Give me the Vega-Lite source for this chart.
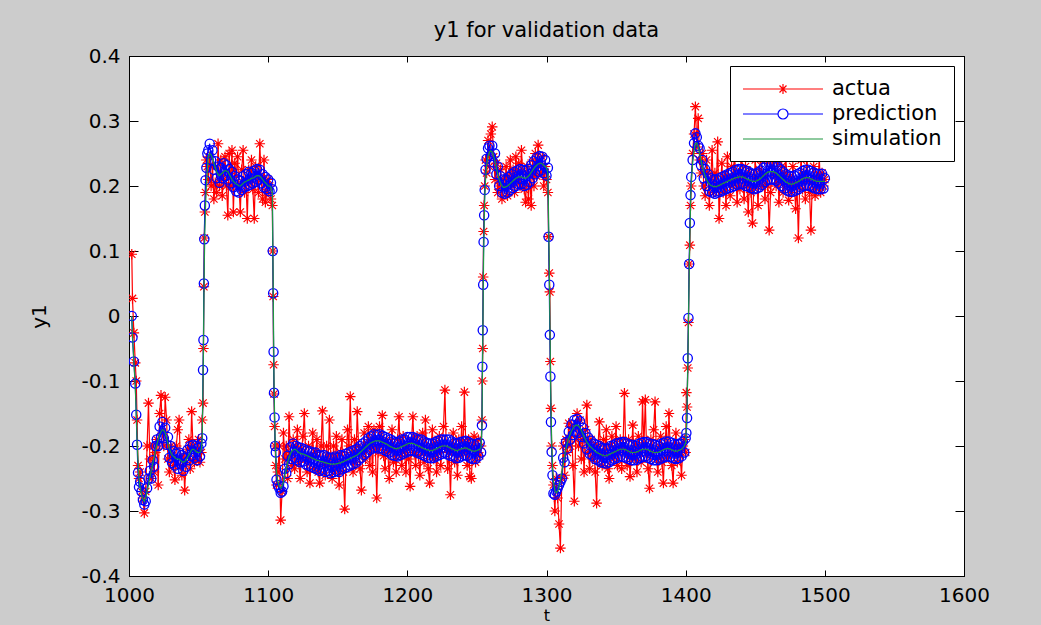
{
"$schema": "https://vega.github.io/schema/vega-lite/v6.json",
"background": "#cccccc",
"autosize": {"type": "none"},
"padding": {"left": 129, "top": 56, "right": 77, "bottom": 49},
"width": 835,
"height": 520,
"title": {"text": "y1 for validation data", "font": "DejaVu Sans", "fontSize": 21, "fontWeight": "normal", "color": "#000", "offset": 5, "anchor": "middle", "frame": "group"},
"config": {
  "view": {"stroke": "#000", "strokeWidth": 1, "fill": "#ffffff"},
  "axis": {"domainColor": "#000", "tickColor": "#000", "labelColor": "#000", "titleColor": "#000", "labelFont": "DejaVu Sans", "labelFontSize": 20, "titleFont": "DejaVu Sans", "titleFontSize": 20, "titleFontWeight": "normal", "grid": false, "domainWidth": 1, "tickWidth": 1, "labelFlush": false, "labelOverlap": false},
  "legend": {"title": null, "orient": "top-right", "offset": 10, "fillColor": "#ffffff", "strokeColor": "#000000", "padding": 12, "labelFont": "DejaVu Sans", "labelFontSize": 21, "labelColor": "#000", "symbolSize": 400, "symbolStrokeWidth": 1.2, "labelOffset": 68, "rowPadding": 4}
},
"data": {"values": [
{"t":1002,"a":0.095,"p":0,"s":0},
{"t":1002.5,"a":0.027,"p":-0.033,"s":-0.03},
{"t":1003.5,"a":-0.026,"p":-0.07,"s":-0.07},
{"t":1004.5,"a":-0.072,"p":-0.104,"s":-0.11},
{"t":1005.2,"a":-0.1,"p":-0.152,"s":-0.15},
{"t":1005.8,"a":-0.16,"p":-0.198,"s":-0.19},
{"t":1006.5,"a":-0.23,"p":-0.241,"s":-0.225},
{"t":1007.2,"a":-0.25,"p":-0.263,"s":-0.25},
{"t":1008,"a":-0.24,"p":-0.255,"s":-0.265},
{"t":1009,"a":-0.27,"p":-0.27,"s":-0.275},
{"t":1010,"a":-0.28,"p":-0.283,"s":-0.282},
{"t":1011,"a":-0.303,"p":-0.29,"s":-0.285},
{"t":1012,"a":-0.27,"p":-0.285,"s":-0.28},
{"t":1013,"a":-0.2,"p":-0.265,"s":-0.27},
{"t":1014,"a":-0.134,"p":-0.25,"s":-0.26},
{"t":1015,"a":-0.22,"p":-0.238,"s":-0.248},
{"t":1016,"a":-0.25,"p":-0.25,"s":-0.238},
{"t":1017,"a":-0.2,"p":-0.222,"s":-0.228},
{"t":1018,"a":-0.24,"p":-0.232,"s":-0.218},
{"t":1019,"a":-0.21,"p":-0.2,"s":-0.208},
{"t":1020,"a":-0.19,"p":-0.19,"s":-0.198},
{"t":1021,"a":-0.26,"p":-0.2,"s":-0.19},
{"t":1022,"a":-0.15,"p":-0.17,"s":-0.183},
{"t":1023,"a":-0.122,"p":-0.186,"s":-0.178},
{"t":1024,"a":-0.18,"p":-0.163,"s":-0.175},
{"t":1025,"a":-0.2,"p":-0.188,"s":-0.176},
{"t":1026,"a":-0.125,"p":-0.172,"s":-0.18},
{"t":1027,"a":-0.16,"p":-0.198,"s":-0.188},
{"t":1028,"a":-0.22,"p":-0.186,"s":-0.196},
{"t":1029,"a":-0.24,"p":-0.218,"s":-0.204},
{"t":1030,"a":-0.2,"p":-0.2,"s":-0.21},
{"t":1031,"a":-0.215,"p":-0.226,"s":-0.214},
{"t":1032,"a":-0.23,"p":-0.208,"s":-0.216},
{"t":1033,"a":-0.252,"p":-0.23,"s":-0.218},
{"t":1034,"a":-0.2,"p":-0.212,"s":-0.22},
{"t":1035,"a":-0.175,"p":-0.235,"s":-0.22},
{"t":1036,"a":-0.16,"p":-0.21,"s":-0.22},
{"t":1037,"a":-0.23,"p":-0.228,"s":-0.222},
{"t":1038,"a":-0.245,"p":-0.214,"s":-0.224},
{"t":1039,"a":-0.215,"p":-0.238,"s":-0.225},
{"t":1040,"a":-0.268,"p":-0.218,"s":-0.224},
{"t":1041,"a":-0.225,"p":-0.232,"s":-0.222},
{"t":1042,"a":-0.205,"p":-0.206,"s":-0.218},
{"t":1043,"a":-0.19,"p":-0.222,"s":-0.214},
{"t":1044,"a":-0.235,"p":-0.2,"s":-0.21},
{"t":1045,"a":-0.147,"p":-0.215,"s":-0.206},
{"t":1046,"a":-0.2,"p":-0.198,"s":-0.205},
{"t":1047,"a":-0.225,"p":-0.218,"s":-0.206},
{"t":1048,"a":-0.22,"p":-0.2,"s":-0.208},
{"t":1049,"a":-0.205,"p":-0.222,"s":-0.21},
{"t":1050,"a":-0.19,"p":-0.203,"s":-0.21},
{"t":1051,"a":-0.225,"p":-0.216,"s":-0.21},
{"t":1052,"a":-0.21,"p":-0.196,"s":-0.205},
{"t":1052.6,"a":-0.16,"p":-0.188,"s":-0.19},
{"t":1053.2,"a":-0.134,"p":-0.083,"s":-0.1},
{"t":1053.5,"a":-0.05,"p":-0.037,"s":-0.05},
{"t":1053.8,"a":0.045,"p":0.05,"s":0.02},
{"t":1054.1,"a":0.12,"p":0.118,"s":0.08},
{"t":1054.5,"a":0.16,"p":0.17,"s":0.13},
{"t":1055,"a":0.19,"p":0.209,"s":0.17},
{"t":1055.6,"a":0.24,"p":0.228,"s":0.2},
{"t":1056.3,"a":0.23,"p":0.25,"s":0.225},
{"t":1057,"a":0.21,"p":0.255,"s":0.245},
{"t":1058,"a":0.245,"p":0.265,"s":0.25},
{"t":1059,"a":0.2,"p":0.24,"s":0.248},
{"t":1060,"a":0.23,"p":0.255,"s":0.242},
{"t":1061,"a":0.18,"p":0.225,"s":0.235},
{"t":1062,"a":0.205,"p":0.238,"s":0.228},
{"t":1063,"a":0.19,"p":0.212,"s":0.222},
{"t":1064,"a":0.265,"p":0.23,"s":0.218},
{"t":1065,"a":0.2,"p":0.205,"s":0.216},
{"t":1066,"a":0.24,"p":0.228,"s":0.218},
{"t":1067,"a":0.185,"p":0.212,"s":0.22},
{"t":1068,"a":0.21,"p":0.235,"s":0.222},
{"t":1069,"a":0.245,"p":0.215,"s":0.224},
{"t":1070,"a":0.2,"p":0.232,"s":0.223},
{"t":1071,"a":0.155,"p":0.21,"s":0.222},
{"t":1072,"a":0.25,"p":0.226,"s":0.218},
{"t":1073,"a":0.2,"p":0.204,"s":0.214},
{"t":1074,"a":0.255,"p":0.222,"s":0.21},
{"t":1075,"a":0.16,"p":0.198,"s":0.207},
{"t":1076,"a":0.235,"p":0.215,"s":0.205},
{"t":1077,"a":0.215,"p":0.192,"s":0.203},
{"t":1078,"a":0.245,"p":0.21,"s":0.202},
{"t":1079,"a":0.2,"p":0.19,"s":0.2},
{"t":1080,"a":0.16,"p":0.208,"s":0.2},
{"t":1081,"a":0.225,"p":0.194,"s":0.202},
{"t":1082,"a":0.255,"p":0.215,"s":0.204},
{"t":1083,"a":0.19,"p":0.198,"s":0.206},
{"t":1084,"a":0.21,"p":0.218,"s":0.207},
{"t":1085,"a":0.15,"p":0.2,"s":0.208},
{"t":1086,"a":0.225,"p":0.222,"s":0.209},
{"t":1087,"a":0.205,"p":0.202,"s":0.21},
{"t":1088,"a":0.24,"p":0.22,"s":0.212},
{"t":1089,"a":0.195,"p":0.204,"s":0.212},
{"t":1090,"a":0.15,"p":0.224,"s":0.213},
{"t":1091,"a":0.23,"p":0.206,"s":0.215},
{"t":1092,"a":0.215,"p":0.226,"s":0.216},
{"t":1093,"a":0.19,"p":0.21,"s":0.216},
{"t":1094,"a":0.265,"p":0.225,"s":0.215},
{"t":1095,"a":0.21,"p":0.204,"s":0.213},
{"t":1096,"a":0.18,"p":0.218,"s":0.21},
{"t":1097,"a":0.24,"p":0.198,"s":0.207},
{"t":1098,"a":0.175,"p":0.214,"s":0.205},
{"t":1099,"a":0.19,"p":0.195,"s":0.203},
{"t":1100,"a":0.21,"p":0.21,"s":0.2},
{"t":1101,"a":0.2,"p":0.192,"s":0.2},
{"t":1102,"a":0.18,"p":0.205,"s":0.198},
{"t":1103,"a":0.17,"p":0.195,"s":0.19},
{"t":1103.3,"a":0.1,"p":0.1,"s":0.12},
{"t":1103.6,"a":0.03,"p":0.035,"s":0.05},
{"t":1103.9,"a":-0.075,"p":-0.055,"s":-0.03},
{"t":1104.2,"a":-0.12,"p":-0.118,"s":-0.1},
{"t":1104.6,"a":-0.17,"p":-0.156,"s":-0.15},
{"t":1105,"a":-0.2,"p":-0.2,"s":-0.19},
{"t":1105.5,"a":-0.23,"p":-0.21,"s":-0.22},
{"t":1106,"a":-0.26,"p":-0.252,"s":-0.24},
{"t":1107,"a":-0.24,"p":-0.26,"s":-0.255},
{"t":1108,"a":-0.2,"p":-0.265,"s":-0.262},
{"t":1109,"a":-0.314,"p":-0.272,"s":-0.265},
{"t":1110,"a":-0.27,"p":-0.27,"s":-0.262},
{"t":1111,"a":-0.18,"p":-0.262,"s":-0.255},
{"t":1112,"a":-0.22,"p":-0.235,"s":-0.245},
{"t":1113,"a":-0.2,"p":-0.242,"s":-0.235},
{"t":1114,"a":-0.25,"p":-0.215,"s":-0.225},
{"t":1115,"a":-0.155,"p":-0.228,"s":-0.218},
{"t":1116,"a":-0.21,"p":-0.202,"s":-0.212},
{"t":1117,"a":-0.23,"p":-0.22,"s":-0.208},
{"t":1118,"a":-0.19,"p":-0.196,"s":-0.206},
{"t":1119,"a":-0.235,"p":-0.218,"s":-0.205},
{"t":1120,"a":-0.2,"p":-0.2,"s":-0.206},
{"t":1121,"a":-0.175,"p":-0.222,"s":-0.208},
{"t":1122,"a":-0.225,"p":-0.202,"s":-0.21},
{"t":1123,"a":-0.25,"p":-0.225,"s":-0.211},
{"t":1124,"a":-0.205,"p":-0.203,"s":-0.212},
{"t":1125,"a":-0.185,"p":-0.224,"s":-0.212},
{"t":1126,"a":-0.15,"p":-0.205,"s":-0.213},
{"t":1127,"a":-0.22,"p":-0.228,"s":-0.214},
{"t":1128,"a":-0.24,"p":-0.207,"s":-0.215},
{"t":1129,"a":-0.2,"p":-0.23,"s":-0.216},
{"t":1130,"a":-0.257,"p":-0.208,"s":-0.217},
{"t":1131,"a":-0.215,"p":-0.232,"s":-0.218},
{"t":1132,"a":-0.18,"p":-0.21,"s":-0.219},
{"t":1133,"a":-0.235,"p":-0.234,"s":-0.22},
{"t":1134,"a":-0.21,"p":-0.21,"s":-0.221},
{"t":1135,"a":-0.19,"p":-0.236,"s":-0.222},
{"t":1136,"a":-0.24,"p":-0.214,"s":-0.222},
{"t":1137,"a":-0.257,"p":-0.238,"s":-0.223},
{"t":1138,"a":-0.2,"p":-0.215,"s":-0.224},
{"t":1139,"a":-0.146,"p":-0.236,"s":-0.224},
{"t":1140,"a":-0.225,"p":-0.214,"s":-0.225},
{"t":1141,"a":-0.245,"p":-0.24,"s":-0.226},
{"t":1142,"a":-0.2,"p":-0.216,"s":-0.226},
{"t":1143,"a":-0.23,"p":-0.238,"s":-0.227},
{"t":1144,"a":-0.16,"p":-0.218,"s":-0.227},
{"t":1145,"a":-0.215,"p":-0.242,"s":-0.228},
{"t":1146,"a":-0.25,"p":-0.218,"s":-0.228},
{"t":1147,"a":-0.2,"p":-0.24,"s":-0.228},
{"t":1148,"a":-0.24,"p":-0.216,"s":-0.228},
{"t":1149,"a":-0.185,"p":-0.238,"s":-0.227},
{"t":1150,"a":-0.225,"p":-0.218,"s":-0.227},
{"t":1151,"a":-0.26,"p":-0.24,"s":-0.226},
{"t":1152,"a":-0.21,"p":-0.214,"s":-0.226},
{"t":1153,"a":-0.19,"p":-0.236,"s":-0.225},
{"t":1154,"a":-0.24,"p":-0.215,"s":-0.224},
{"t":1155,"a":-0.297,"p":-0.234,"s":-0.223},
{"t":1156,"a":-0.22,"p":-0.212,"s":-0.222},
{"t":1157,"a":-0.175,"p":-0.232,"s":-0.221},
{"t":1158,"a":-0.2,"p":-0.21,"s":-0.22},
{"t":1159,"a":-0.124,"p":-0.23,"s":-0.219},
{"t":1160,"a":-0.21,"p":-0.208,"s":-0.218},
{"t":1161,"a":-0.24,"p":-0.228,"s":-0.217},
{"t":1162,"a":-0.19,"p":-0.206,"s":-0.216},
{"t":1163,"a":-0.225,"p":-0.226,"s":-0.215},
{"t":1164,"a":-0.147,"p":-0.204,"s":-0.214},
{"t":1165,"a":-0.2,"p":-0.222,"s":-0.212},
{"t":1166,"a":-0.235,"p":-0.2,"s":-0.21},
{"t":1167,"a":-0.268,"p":-0.218,"s":-0.208},
{"t":1168,"a":-0.21,"p":-0.196,"s":-0.206},
{"t":1169,"a":-0.18,"p":-0.214,"s":-0.204},
{"t":1170,"a":-0.22,"p":-0.193,"s":-0.202},
{"t":1171,"a":-0.2,"p":-0.21,"s":-0.2},
{"t":1172,"a":-0.17,"p":-0.188,"s":-0.198},
{"t":1173,"a":-0.23,"p":-0.206,"s":-0.196},
{"t":1174,"a":-0.19,"p":-0.185,"s":-0.195},
{"t":1175,"a":-0.24,"p":-0.204,"s":-0.194},
{"t":1176,"a":-0.175,"p":-0.182,"s":-0.193},
{"t":1177,"a":-0.2,"p":-0.202,"s":-0.192},
{"t":1178,"a":-0.28,"p":-0.183,"s":-0.192},
{"t":1179,"a":-0.21,"p":-0.204,"s":-0.192},
{"t":1180,"a":-0.17,"p":-0.182,"s":-0.192},
{"t":1181,"a":-0.2,"p":-0.203,"s":-0.193},
{"t":1182,"a":-0.153,"p":-0.184,"s":-0.194},
{"t":1183,"a":-0.215,"p":-0.206,"s":-0.195},
{"t":1184,"a":-0.235,"p":-0.186,"s":-0.196},
{"t":1185,"a":-0.19,"p":-0.208,"s":-0.197},
{"t":1186,"a":-0.21,"p":-0.188,"s":-0.198},
{"t":1187,"a":-0.25,"p":-0.21,"s":-0.2},
{"t":1188,"a":-0.2,"p":-0.19,"s":-0.201},
{"t":1189,"a":-0.175,"p":-0.214,"s":-0.202},
{"t":1190,"a":-0.225,"p":-0.193,"s":-0.203},
{"t":1191,"a":-0.205,"p":-0.215,"s":-0.204},
{"t":1192,"a":-0.24,"p":-0.194,"s":-0.204},
{"t":1193,"a":-0.19,"p":-0.216,"s":-0.204},
{"t":1194,"a":-0.155,"p":-0.193,"s":-0.203},
{"t":1195,"a":-0.215,"p":-0.214,"s":-0.202},
{"t":1196,"a":-0.23,"p":-0.19,"s":-0.201},
{"t":1197,"a":-0.185,"p":-0.212,"s":-0.2},
{"t":1198,"a":-0.21,"p":-0.19,"s":-0.199},
{"t":1199,"a":-0.24,"p":-0.21,"s":-0.198},
{"t":1200,"a":-0.2,"p":-0.186,"s":-0.197},
{"t":1201,"a":-0.22,"p":-0.208,"s":-0.196},
{"t":1202,"a":-0.262,"p":-0.186,"s":-0.196},
{"t":1203,"a":-0.19,"p":-0.207,"s":-0.196},
{"t":1204,"a":-0.155,"p":-0.186,"s":-0.196},
{"t":1205,"a":-0.21,"p":-0.208,"s":-0.197},
{"t":1206,"a":-0.23,"p":-0.188,"s":-0.198},
{"t":1207,"a":-0.185,"p":-0.21,"s":-0.199},
{"t":1208,"a":-0.215,"p":-0.19,"s":-0.2},
{"t":1209,"a":-0.245,"p":-0.212,"s":-0.201},
{"t":1210,"a":-0.2,"p":-0.19,"s":-0.202},
{"t":1211,"a":-0.18,"p":-0.214,"s":-0.203},
{"t":1212,"a":-0.225,"p":-0.193,"s":-0.204},
{"t":1213,"a":-0.16,"p":-0.216,"s":-0.205},
{"t":1214,"a":-0.21,"p":-0.195,"s":-0.206},
{"t":1215,"a":-0.235,"p":-0.218,"s":-0.206},
{"t":1216,"a":-0.257,"p":-0.196,"s":-0.207},
{"t":1217,"a":-0.2,"p":-0.219,"s":-0.207},
{"t":1218,"a":-0.175,"p":-0.196,"s":-0.207},
{"t":1219,"a":-0.22,"p":-0.218,"s":-0.206},
{"t":1220,"a":-0.195,"p":-0.194,"s":-0.205},
{"t":1221,"a":-0.24,"p":-0.216,"s":-0.204},
{"t":1222,"a":-0.21,"p":-0.192,"s":-0.203},
{"t":1223,"a":-0.185,"p":-0.214,"s":-0.202},
{"t":1224,"a":-0.23,"p":-0.19,"s":-0.201},
{"t":1225,"a":-0.2,"p":-0.212,"s":-0.2},
{"t":1226,"a":-0.17,"p":-0.19,"s":-0.2},
{"t":1227,"a":-0.114,"p":-0.21,"s":-0.2},
{"t":1228,"a":-0.205,"p":-0.19,"s":-0.2},
{"t":1229,"a":-0.235,"p":-0.213,"s":-0.201},
{"t":1230,"a":-0.21,"p":-0.19,"s":-0.202},
{"t":1231,"a":-0.275,"p":-0.215,"s":-0.203},
{"t":1232,"a":-0.2,"p":-0.193,"s":-0.204},
{"t":1233,"a":-0.18,"p":-0.216,"s":-0.205},
{"t":1234,"a":-0.225,"p":-0.195,"s":-0.206},
{"t":1235,"a":-0.2,"p":-0.219,"s":-0.207},
{"t":1236,"a":-0.245,"p":-0.196,"s":-0.207},
{"t":1237,"a":-0.19,"p":-0.218,"s":-0.206},
{"t":1238,"a":-0.215,"p":-0.194,"s":-0.205},
{"t":1239,"a":-0.17,"p":-0.216,"s":-0.204},
{"t":1240,"a":-0.21,"p":-0.193,"s":-0.204},
{"t":1241,"a":-0.117,"p":-0.214,"s":-0.203},
{"t":1242,"a":-0.2,"p":-0.192,"s":-0.203},
{"t":1243,"a":-0.23,"p":-0.215,"s":-0.204},
{"t":1244,"a":-0.19,"p":-0.194,"s":-0.205},
{"t":1245,"a":-0.247,"p":-0.218,"s":-0.206},
{"t":1246,"a":-0.25,"p":-0.196,"s":-0.207},
{"t":1247,"a":-0.2,"p":-0.22,"s":-0.208},
{"t":1248,"a":-0.185,"p":-0.198,"s":-0.208},
{"t":1249,"a":-0.225,"p":-0.22,"s":-0.208},
{"t":1250,"a":-0.21,"p":-0.196,"s":-0.207},
{"t":1251,"a":-0.19,"p":-0.216,"s":-0.206},
{"t":1252,"a":-0.215,"p":-0.195,"s":-0.205},
{"t":1253,"a":-0.2,"p":-0.21,"s":-0.202},
{"t":1253.6,"a":-0.16,"p":-0.168,"s":-0.17},
{"t":1253.9,"a":-0.1,"p":-0.078,"s":-0.1},
{"t":1254.2,"a":-0.05,"p":-0.022,"s":-0.04},
{"t":1254.5,"a":0.06,"p":0.048,"s":0.03},
{"t":1254.8,"a":0.13,"p":0.114,"s":0.09},
{"t":1255.2,"a":0.17,"p":0.155,"s":0.14},
{"t":1255.6,"a":0.2,"p":0.194,"s":0.18},
{"t":1256.2,"a":0.24,"p":0.225,"s":0.21},
{"t":1257,"a":0.22,"p":0.242,"s":0.232},
{"t":1258,"a":0.27,"p":0.258,"s":0.245},
{"t":1259,"a":0.23,"p":0.262,"s":0.252},
{"t":1260,"a":0.28,"p":0.246,"s":0.254},
{"t":1261,"a":0.291,"p":0.262,"s":0.252},
{"t":1262,"a":0.245,"p":0.236,"s":0.246},
{"t":1263,"a":0.21,"p":0.25,"s":0.238},
{"t":1264,"a":0.235,"p":0.218,"s":0.228},
{"t":1265,"a":0.19,"p":0.23,"s":0.218},
{"t":1266,"a":0.2,"p":0.2,"s":0.21},
{"t":1267,"a":0.225,"p":0.215,"s":0.204},
{"t":1268,"a":0.18,"p":0.19,"s":0.2},
{"t":1269,"a":0.21,"p":0.21,"s":0.198},
{"t":1270,"a":0.195,"p":0.188,"s":0.198},
{"t":1271,"a":0.23,"p":0.21,"s":0.199},
{"t":1272,"a":0.185,"p":0.19,"s":0.2},
{"t":1273,"a":0.215,"p":0.214,"s":0.202},
{"t":1274,"a":0.24,"p":0.194,"s":0.204},
{"t":1275,"a":0.2,"p":0.218,"s":0.206},
{"t":1276,"a":0.225,"p":0.197,"s":0.208},
{"t":1277,"a":0.19,"p":0.222,"s":0.21},
{"t":1278,"a":0.245,"p":0.2,"s":0.212},
{"t":1279,"a":0.21,"p":0.224,"s":0.213},
{"t":1280,"a":0.235,"p":0.203,"s":0.214},
{"t":1281,"a":0.2,"p":0.226,"s":0.214},
{"t":1282,"a":0.255,"p":0.203,"s":0.214},
{"t":1283,"a":0.22,"p":0.225,"s":0.213},
{"t":1284,"a":0.195,"p":0.2,"s":0.212},
{"t":1285,"a":0.175,"p":0.224,"s":0.212},
{"t":1286,"a":0.23,"p":0.202,"s":0.213},
{"t":1287,"a":0.18,"p":0.226,"s":0.215},
{"t":1288,"a":0.215,"p":0.206,"s":0.218},
{"t":1289,"a":0.17,"p":0.232,"s":0.221},
{"t":1290,"a":0.24,"p":0.212,"s":0.224},
{"t":1291,"a":0.2,"p":0.238,"s":0.227},
{"t":1292,"a":0.25,"p":0.218,"s":0.23},
{"t":1293,"a":0.215,"p":0.244,"s":0.232},
{"t":1294,"a":0.263,"p":0.222,"s":0.234},
{"t":1295,"a":0.235,"p":0.246,"s":0.235},
{"t":1296,"a":0.22,"p":0.224,"s":0.235},
{"t":1297,"a":0.245,"p":0.245,"s":0.234},
{"t":1298,"a":0.2,"p":0.22,"s":0.232},
{"t":1299,"a":0.23,"p":0.24,"s":0.23},
{"t":1300,"a":0.21,"p":0.216,"s":0.228},
{"t":1301,"a":0.19,"p":0.228,"s":0.22},
{"t":1301.5,"a":0.122,"p":0.122,"s":0.15},
{"t":1302,"a":0.066,"p":0.048,"s":0.08},
{"t":1302.4,"a":0.037,"p":-0.029,"s":0},
{"t":1302.8,"a":-0.07,"p":-0.093,"s":-0.07},
{"t":1303.2,"a":-0.142,"p":-0.163,"s":-0.14},
{"t":1303.7,"a":-0.2,"p":-0.209,"s":-0.19},
{"t":1304.3,"a":-0.23,"p":-0.245,"s":-0.23},
{"t":1305,"a":-0.26,"p":-0.273,"s":-0.255},
{"t":1306,"a":-0.3,"p":-0.275,"s":-0.268},
{"t":1307,"a":-0.25,"p":-0.27,"s":-0.272},
{"t":1308,"a":-0.28,"p":-0.265,"s":-0.27},
{"t":1309,"a":-0.32,"p":-0.26,"s":-0.262},
{"t":1310,"a":-0.357,"p":-0.255,"s":-0.252},
{"t":1311,"a":-0.25,"p":-0.25,"s":-0.24},
{"t":1312,"a":-0.2,"p":-0.218,"s":-0.228},
{"t":1313,"a":-0.245,"p":-0.225,"s":-0.215},
{"t":1314,"a":-0.19,"p":-0.194,"s":-0.204},
{"t":1315,"a":-0.21,"p":-0.204,"s":-0.195},
{"t":1316,"a":-0.165,"p":-0.178,"s":-0.188},
{"t":1317,"a":-0.2,"p":-0.19,"s":-0.182},
{"t":1318,"a":-0.17,"p":-0.167,"s":-0.177},
{"t":1319,"a":-0.23,"p":-0.183,"s":-0.173},
{"t":1320,"a":-0.285,"p":-0.16,"s":-0.17},
{"t":1321,"a":-0.19,"p":-0.178,"s":-0.168},
{"t":1322,"a":-0.15,"p":-0.158,"s":-0.168},
{"t":1323,"a":-0.2,"p":-0.18,"s":-0.169},
{"t":1324,"a":-0.16,"p":-0.162,"s":-0.172},
{"t":1325,"a":-0.22,"p":-0.186,"s":-0.176},
{"t":1326,"a":-0.19,"p":-0.172,"s":-0.181},
{"t":1327,"a":-0.24,"p":-0.196,"s":-0.186},
{"t":1328,"a":-0.175,"p":-0.18,"s":-0.19},
{"t":1329,"a":-0.137,"p":-0.205,"s":-0.194},
{"t":1330,"a":-0.21,"p":-0.187,"s":-0.197},
{"t":1331,"a":-0.235,"p":-0.212,"s":-0.2},
{"t":1332,"a":-0.19,"p":-0.192,"s":-0.202},
{"t":1333,"a":-0.22,"p":-0.215,"s":-0.204},
{"t":1334,"a":-0.2,"p":-0.196,"s":-0.206},
{"t":1335,"a":-0.24,"p":-0.22,"s":-0.208},
{"t":1336,"a":-0.288,"p":-0.198,"s":-0.21},
{"t":1337,"a":-0.2,"p":-0.222,"s":-0.211},
{"t":1338,"a":-0.163,"p":-0.2,"s":-0.212},
{"t":1339,"a":-0.215,"p":-0.225,"s":-0.213},
{"t":1340,"a":-0.23,"p":-0.203,"s":-0.214},
{"t":1341,"a":-0.19,"p":-0.226,"s":-0.215},
{"t":1342,"a":-0.21,"p":-0.204,"s":-0.215},
{"t":1343,"a":-0.175,"p":-0.227,"s":-0.215},
{"t":1344,"a":-0.235,"p":-0.204,"s":-0.214},
{"t":1345,"a":-0.25,"p":-0.225,"s":-0.213},
{"t":1346,"a":-0.2,"p":-0.2,"s":-0.212},
{"t":1347,"a":-0.185,"p":-0.222,"s":-0.211},
{"t":1348,"a":-0.22,"p":-0.199,"s":-0.21},
{"t":1349,"a":-0.205,"p":-0.22,"s":-0.209},
{"t":1350,"a":-0.17,"p":-0.196,"s":-0.208},
{"t":1351,"a":-0.23,"p":-0.218,"s":-0.207},
{"t":1352,"a":-0.21,"p":-0.195,"s":-0.206},
{"t":1353,"a":-0.19,"p":-0.216,"s":-0.205},
{"t":1354,"a":-0.235,"p":-0.194,"s":-0.205},
{"t":1355,"a":-0.2,"p":-0.217,"s":-0.205},
{"t":1356,"a":-0.119,"p":-0.194,"s":-0.205},
{"t":1357,"a":-0.21,"p":-0.218,"s":-0.206},
{"t":1358,"a":-0.23,"p":-0.196,"s":-0.207},
{"t":1359,"a":-0.19,"p":-0.22,"s":-0.208},
{"t":1360,"a":-0.247,"p":-0.198,"s":-0.209},
{"t":1361,"a":-0.215,"p":-0.222,"s":-0.21},
{"t":1362,"a":-0.168,"p":-0.198,"s":-0.21},
{"t":1363,"a":-0.22,"p":-0.222,"s":-0.21},
{"t":1364,"a":-0.2,"p":-0.2,"s":-0.21},
{"t":1365,"a":-0.24,"p":-0.221,"s":-0.209},
{"t":1366,"a":-0.185,"p":-0.197,"s":-0.208},
{"t":1367,"a":-0.21,"p":-0.219,"s":-0.207},
{"t":1368,"a":-0.225,"p":-0.195,"s":-0.206},
{"t":1369,"a":-0.132,"p":-0.217,"s":-0.205},
{"t":1370,"a":-0.2,"p":-0.194,"s":-0.205},
{"t":1371,"a":-0.129,"p":-0.216,"s":-0.205},
{"t":1372,"a":-0.215,"p":-0.194,"s":-0.205},
{"t":1373,"a":-0.235,"p":-0.218,"s":-0.206},
{"t":1374,"a":-0.265,"p":-0.196,"s":-0.207},
{"t":1375,"a":-0.19,"p":-0.22,"s":-0.208},
{"t":1376,"a":-0.21,"p":-0.197,"s":-0.209},
{"t":1377,"a":-0.175,"p":-0.222,"s":-0.21},
{"t":1378,"a":-0.132,"p":-0.198,"s":-0.21},
{"t":1379,"a":-0.22,"p":-0.222,"s":-0.21},
{"t":1380,"a":-0.24,"p":-0.2,"s":-0.21},
{"t":1381,"a":-0.2,"p":-0.221,"s":-0.209},
{"t":1382,"a":-0.185,"p":-0.197,"s":-0.208},
{"t":1383,"a":-0.225,"p":-0.219,"s":-0.207},
{"t":1384,"a":-0.257,"p":-0.195,"s":-0.206},
{"t":1385,"a":-0.2,"p":-0.217,"s":-0.205},
{"t":1386,"a":-0.17,"p":-0.193,"s":-0.204},
{"t":1387,"a":-0.215,"p":-0.216,"s":-0.204},
{"t":1388,"a":-0.15,"p":-0.193,"s":-0.204},
{"t":1389,"a":-0.21,"p":-0.217,"s":-0.205},
{"t":1390,"a":-0.23,"p":-0.195,"s":-0.206},
{"t":1391,"a":-0.257,"p":-0.219,"s":-0.207},
{"t":1392,"a":-0.2,"p":-0.197,"s":-0.208},
{"t":1393,"a":-0.18,"p":-0.22,"s":-0.208},
{"t":1394,"a":-0.225,"p":-0.197,"s":-0.208},
{"t":1395,"a":-0.2,"p":-0.219,"s":-0.207},
{"t":1396,"a":-0.215,"p":-0.196,"s":-0.206},
{"t":1397,"a":-0.245,"p":-0.216,"s":-0.205},
{"t":1398,"a":-0.2,"p":-0.193,"s":-0.203},
{"t":1399,"a":-0.19,"p":-0.21,"s":-0.2},
{"t":1400,"a":-0.21,"p":-0.188,"s":-0.195},
{"t":1400.5,"a":-0.118,"p":-0.18,"s":-0.17},
{"t":1401,"a":-0.14,"p":-0.157,"s":-0.14},
{"t":1401.5,"a":-0.08,"p":-0.065,"s":-0.08},
{"t":1402,"a":-0.01,"p":-0.003,"s":-0.01},
{"t":1402.5,"a":0.08,"p":0.08,"s":0.06},
{"t":1403,"a":0.109,"p":0.143,"s":0.12},
{"t":1403.5,"a":0.17,"p":0.186,"s":0.17},
{"t":1404,"a":0.2,"p":0.214,"s":0.205},
{"t":1405,"a":0.25,"p":0.24,"s":0.235},
{"t":1406,"a":0.28,"p":0.266,"s":0.255},
{"t":1407,"a":0.322,"p":0.281,"s":0.265},
{"t":1408,"a":0.26,"p":0.275,"s":0.266},
{"t":1409,"a":0.304,"p":0.262,"s":0.26},
{"t":1410,"a":0.24,"p":0.258,"s":0.25},
{"t":1411,"a":0.22,"p":0.232,"s":0.24},
{"t":1412,"a":0.25,"p":0.24,"s":0.23},
{"t":1413,"a":0.2,"p":0.212,"s":0.222},
{"t":1414,"a":0.185,"p":0.226,"s":0.215},
{"t":1415,"a":0.24,"p":0.2,"s":0.21},
{"t":1416,"a":0.22,"p":0.218,"s":0.206},
{"t":1417,"a":0.17,"p":0.192,"s":0.203},
{"t":1418,"a":0.21,"p":0.212,"s":0.201},
{"t":1419,"a":0.255,"p":0.19,"s":0.2},
{"t":1420,"a":0.19,"p":0.21,"s":0.199},
{"t":1421,"a":0.22,"p":0.188,"s":0.199},
{"t":1422,"a":0.2,"p":0.21,"s":0.199},
{"t":1423,"a":0.268,"p":0.19,"s":0.2},
{"t":1424,"a":0.15,"p":0.212,"s":0.201},
{"t":1425,"a":0.2,"p":0.191,"s":0.202},
{"t":1426,"a":0.235,"p":0.214,"s":0.203},
{"t":1427,"a":0.19,"p":0.193,"s":0.204},
{"t":1428,"a":0.215,"p":0.216,"s":0.205},
{"t":1429,"a":0.17,"p":0.195,"s":0.206},
{"t":1430,"a":0.245,"p":0.218,"s":0.207},
{"t":1431,"a":0.21,"p":0.197,"s":0.208},
{"t":1432,"a":0.185,"p":0.22,"s":0.209},
{"t":1433,"a":0.23,"p":0.198,"s":0.21},
{"t":1434,"a":0.2,"p":0.222,"s":0.211},
{"t":1435,"a":0.25,"p":0.2,"s":0.212},
{"t":1436,"a":0.215,"p":0.225,"s":0.213},
{"t":1437,"a":0.175,"p":0.202,"s":0.213},
{"t":1438,"a":0.22,"p":0.226,"s":0.214},
{"t":1439,"a":0.195,"p":0.203,"s":0.214},
{"t":1440,"a":0.26,"p":0.226,"s":0.214},
{"t":1441,"a":0.21,"p":0.203,"s":0.214},
{"t":1442,"a":0.18,"p":0.225,"s":0.213},
{"t":1443,"a":0.23,"p":0.2,"s":0.212},
{"t":1444,"a":0.2,"p":0.223,"s":0.211},
{"t":1445,"a":0.16,"p":0.199,"s":0.21},
{"t":1446,"a":0.22,"p":0.221,"s":0.209},
{"t":1447,"a":0.19,"p":0.197,"s":0.208},
{"t":1448,"a":0.143,"p":0.219,"s":0.207},
{"t":1449,"a":0.2,"p":0.195,"s":0.207},
{"t":1450,"a":0.24,"p":0.219,"s":0.207},
{"t":1451,"a":0.21,"p":0.196,"s":0.208},
{"t":1452,"a":0.17,"p":0.221,"s":0.209},
{"t":1453,"a":0.225,"p":0.198,"s":0.21},
{"t":1454,"a":0.25,"p":0.224,"s":0.212},
{"t":1455,"a":0.2,"p":0.202,"s":0.214},
{"t":1456,"a":0.215,"p":0.228,"s":0.216},
{"t":1457,"a":0.18,"p":0.206,"s":0.218},
{"t":1458,"a":0.24,"p":0.232,"s":0.22},
{"t":1459,"a":0.2,"p":0.209,"s":0.221},
{"t":1460,"a":0.132,"p":0.234,"s":0.222},
{"t":1461,"a":0.19,"p":0.21,"s":0.222},
{"t":1462,"a":0.23,"p":0.234,"s":0.222},
{"t":1463,"a":0.25,"p":0.21,"s":0.222},
{"t":1464,"a":0.215,"p":0.233,"s":0.221},
{"t":1465,"a":0.2,"p":0.208,"s":0.22},
{"t":1466,"a":0.24,"p":0.23,"s":0.218},
{"t":1467,"a":0.175,"p":0.204,"s":0.216},
{"t":1468,"a":0.21,"p":0.226,"s":0.214},
{"t":1469,"a":0.23,"p":0.2,"s":0.212},
{"t":1470,"a":0.19,"p":0.222,"s":0.21},
{"t":1471,"a":0.22,"p":0.196,"s":0.208},
{"t":1472,"a":0.245,"p":0.218,"s":0.206},
{"t":1473,"a":0.2,"p":0.193,"s":0.205},
{"t":1474,"a":0.178,"p":0.216,"s":0.204},
{"t":1475,"a":0.215,"p":0.191,"s":0.203},
{"t":1476,"a":0.19,"p":0.215,"s":0.203},
{"t":1477,"a":0.23,"p":0.191,"s":0.203},
{"t":1478,"a":0.205,"p":0.216,"s":0.204},
{"t":1479,"a":0.165,"p":0.193,"s":0.205},
{"t":1480,"a":0.2,"p":0.218,"s":0.206},
{"t":1481,"a":0.12,"p":0.195,"s":0.207},
{"t":1482,"a":0.21,"p":0.22,"s":0.208},
{"t":1483,"a":0.24,"p":0.198,"s":0.21},
{"t":1484,"a":0.195,"p":0.223,"s":0.211},
{"t":1485,"a":0.22,"p":0.2,"s":0.212},
{"t":1486,"a":0.18,"p":0.225,"s":0.213},
{"t":1487,"a":0.25,"p":0.201,"s":0.213},
{"t":1488,"a":0.21,"p":0.225,"s":0.213},
{"t":1489,"a":0.19,"p":0.2,"s":0.212},
{"t":1490,"a":0.132,"p":0.223,"s":0.211},
{"t":1491,"a":0.205,"p":0.198,"s":0.21},
{"t":1492,"a":0.23,"p":0.221,"s":0.209},
{"t":1493,"a":0.185,"p":0.196,"s":0.208},
{"t":1494,"a":0.215,"p":0.219,"s":0.207},
{"t":1495,"a":0.2,"p":0.195,"s":0.207},
{"t":1496,"a":0.245,"p":0.219,"s":0.207},
{"t":1497,"a":0.19,"p":0.195,"s":0.207},
{"t":1498,"a":0.22,"p":0.219,"s":0.207},
{"t":1499,"a":0.2,"p":0.196,"s":0.207},
{"t":1500,"a":0.21,"p":0.212,"s":0.207}
]},
"resolve": {"axis": {"x": "independent", "y": "independent"}},
"layer": [
  {
    "mark": {"type": "line", "color": "#ff0000", "strokeWidth": 1.2, "clip": true},
    "encoding": {
      "x": {"field": "t", "type": "quantitative", "scale": {"domain": [1000, 1600], "nice": false, "zero": false},
            "axis": {"orient": "bottom", "values": [1000, 1100, 1200, 1300, 1400, 1500, 1600], "format": "d", "title": "t", "tickSize": -6, "labelPadding": 15, "titlePadding": 2, "titleFontSize": 16}},
      "y": {"field": "a", "type": "quantitative", "scale": {"domain": [-0.4, 0.4], "nice": false, "zero": false},
            "axis": {"orient": "left", "values": [-0.4, -0.3, -0.2, -0.1, 0, 0.1, 0.2, 0.3, 0.4], "labelExpr": "'' + datum.value", "title": "y1", "tickSize": -9, "labelPadding": 18, "titlePadding": 31}}
    }
  },
  {
    "mark": {"type": "point", "shape": "M-1,0L1,0M0,-1L0,1M-0.7,-0.7L0.7,0.7M-0.7,0.7L0.7,-0.7", "filled": false, "color": "#ff0000", "size": 110, "strokeWidth": 1.2, "opacity": 1, "clip": true},
    "encoding": {
      "x": {"field": "t", "type": "quantitative", "scale": {"domain": [1000, 1600], "nice": false, "zero": false}, "axis": null},
      "y": {"field": "a", "type": "quantitative", "scale": {"domain": [-0.4, 0.4], "nice": false, "zero": false}, "axis": null}
    }
  },
  {
    "mark": {"type": "line", "color": "#0000ff", "strokeWidth": 1.2, "clip": true},
    "encoding": {
      "x": {"field": "t", "type": "quantitative", "scale": {"domain": [1000, 1600], "nice": false, "zero": false}, "axis": null},
      "y": {"field": "p", "type": "quantitative", "scale": {"domain": [-0.4, 0.4], "nice": false, "zero": false}, "axis": null}
    }
  },
  {
    "mark": {"type": "point", "shape": "circle", "filled": false, "color": "#0000ff", "size": 85, "strokeWidth": 1.3, "opacity": 1, "clip": true},
    "encoding": {
      "x": {"field": "t", "type": "quantitative", "scale": {"domain": [1000, 1600], "nice": false, "zero": false}, "axis": null},
      "y": {"field": "p", "type": "quantitative", "scale": {"domain": [-0.4, 0.4], "nice": false, "zero": false}, "axis": null}
    }
  },
  {
    "mark": {"type": "line", "color": "#1e9641", "strokeWidth": 1.2, "clip": true},
    "encoding": {
      "x": {"field": "t", "type": "quantitative", "scale": {"domain": [1000, 1600], "nice": false, "zero": false},
            "axis": {"orient": "top", "values": [1000, 1100, 1200, 1300, 1400, 1500, 1600], "labels": false, "title": null, "tickSize": -6}},
      "y": {"field": "s", "type": "quantitative", "scale": {"domain": [-0.4, 0.4], "nice": false, "zero": false},
            "axis": {"orient": "right", "values": [-0.4, -0.3, -0.2, -0.1, 0, 0.1, 0.2, 0.3, 0.4], "labels": false, "title": null, "tickSize": -9}}
    }
  },
  {
    "transform": [{"filter": "datum.t > 9999"}],
    "mark": {"type": "point", "filled": false, "size": 400, "strokeWidth": 1.2, "opacity": 1},
    "encoding": {
      "x": {"field": "t", "type": "quantitative", "scale": {"domain": [1000, 1600], "nice": false, "zero": false}, "axis": null},
      "y": {"field": "a", "type": "quantitative", "scale": {"domain": [-0.4, 0.4], "nice": false, "zero": false}, "axis": null},
      "color": {"datum": "actua", "type": "nominal", "scale": {"domain": ["actua", "prediction", "simulation"], "range": ["#ff0000", "#0000ff", "#1e9641"]}},
      "shape": {"datum": "actua", "type": "nominal", "scale": {"domain": ["actua", "prediction", "simulation"], "range": ["M-1,0H7M3,-0.5V0.5M2.65,-0.35L3.35,0.35M2.65,0.35L3.35,-0.35", "M-1,0H2.5M3.5,0H7M3.5,0A0.5,0.5,0,1,1,2.5,0A0.5,0.5,0,1,1,3.5,0", "M-1,0H7"]}}
    }
  },
  {
    "transform": [{"filter": "datum.t > 9999"}],
    "mark": {"type": "point", "filled": false, "size": 400, "strokeWidth": 1.2, "opacity": 1},
    "encoding": {
      "x": {"field": "t", "type": "quantitative", "scale": {"domain": [1000, 1600], "nice": false, "zero": false}, "axis": null},
      "y": {"field": "p", "type": "quantitative", "scale": {"domain": [-0.4, 0.4], "nice": false, "zero": false}, "axis": null},
      "color": {"datum": "prediction", "type": "nominal", "scale": {"domain": ["actua", "prediction", "simulation"], "range": ["#ff0000", "#0000ff", "#1e9641"]}},
      "shape": {"datum": "prediction", "type": "nominal", "scale": {"domain": ["actua", "prediction", "simulation"], "range": ["M-1,0H7M3,-0.5V0.5M2.65,-0.35L3.35,0.35M2.65,0.35L3.35,-0.35", "M-1,0H2.5M3.5,0H7M3.5,0A0.5,0.5,0,1,1,2.5,0A0.5,0.5,0,1,1,3.5,0", "M-1,0H7"]}}
    }
  },
  {
    "transform": [{"filter": "datum.t > 9999"}],
    "mark": {"type": "point", "filled": false, "size": 400, "strokeWidth": 1.2, "opacity": 1},
    "encoding": {
      "x": {"field": "t", "type": "quantitative", "scale": {"domain": [1000, 1600], "nice": false, "zero": false}, "axis": null},
      "y": {"field": "s", "type": "quantitative", "scale": {"domain": [-0.4, 0.4], "nice": false, "zero": false}, "axis": null},
      "color": {"datum": "simulation", "type": "nominal", "scale": {"domain": ["actua", "prediction", "simulation"], "range": ["#ff0000", "#0000ff", "#1e9641"]}},
      "shape": {"datum": "simulation", "type": "nominal", "scale": {"domain": ["actua", "prediction", "simulation"], "range": ["M-1,0H7M3,-0.5V0.5M2.65,-0.35L3.35,0.35M2.65,0.35L3.35,-0.35", "M-1,0H2.5M3.5,0H7M3.5,0A0.5,0.5,0,1,1,2.5,0A0.5,0.5,0,1,1,3.5,0", "M-1,0H7"]}}
    }
  }
]
}
